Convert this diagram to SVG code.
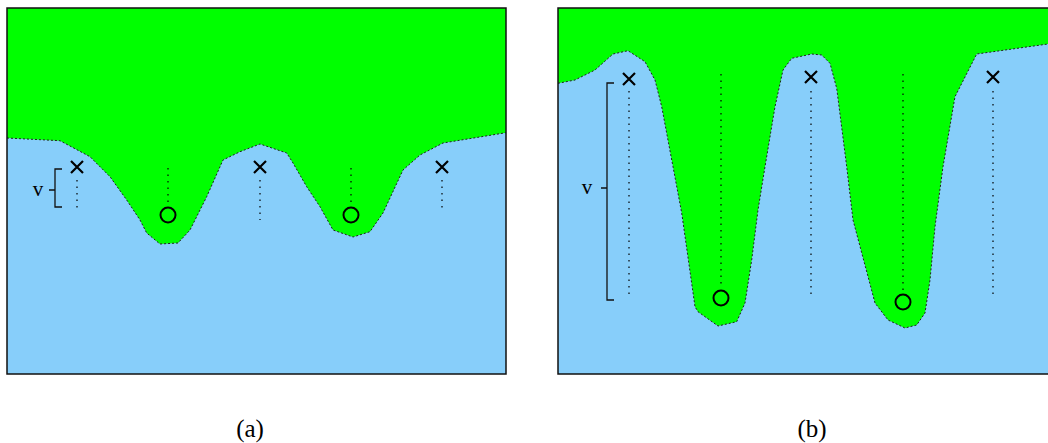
<svg xmlns="http://www.w3.org/2000/svg" width="1048" height="443" viewBox="0 0 1048 443">
<style>
.sky{fill:#87cefa}
.grass{fill:#00ff00}
.edge{fill:none;stroke:#222;stroke-width:1;stroke-dasharray:2 2;stroke-linejoin:round}
.frame{fill:none;stroke:#111;stroke-width:1.5}
.cross{stroke:#000;stroke-width:2.2;fill:none}
.circ{stroke:#000;stroke-width:2;fill:none}
.dot{stroke:#000;stroke-width:1.2;stroke-dasharray:1.5 5;fill:none}
.brk{stroke:#111;stroke-width:1.3;fill:none}
.lbl{font-family:"Liberation Serif",serif;fill:#000}
</style>
<defs>
<g id="xmark"><path d="M-6,-6L6,6M6,-6L-6,6"/></g>
</defs>
<g id="panel-a">
<rect x="7" y="8" width="499" height="366" class="sky"/>
<path class="grass" d="M7,8H506V132.7L443,143L420,155L403,170L383,213L370,231.7L353,237L333,230L320,206.7L306.7,186.7L293,163L286.7,153L260,144L240,151.7L223,160L206.7,196.7L190,230L178,243L160,244L146.7,233L140,220L126.7,200L110,176.7L90,156.7L60,140.7L7,138Z"/>
<path class="edge" d="M7,138L60,140.7L90,156.7L110,176.7L126.7,200L140,220L146.7,233L160,244L178,243L190,230L206.7,196.7L223,160L240,151.7L260,144L286.7,153L293,163L306.7,186.7L320,206.7L333,230L353,237L370,231.7L383,213L403,170L420,155L443,143L506,132.7"/>
<rect x="7" y="8" width="499" height="366" class="frame"/>
</g>
<g id="panel-b">
<rect x="558" y="8" width="495" height="366" class="sky"/>
<path class="grass" d="M558,8H1053V44L1048,44L976.7,54L955,96.7L943,166.7L935,226.7L930,280L925,313L916.7,325L905,328L888,320L875,303L853,220L846.7,166.7L836.7,88.3L830,63.3L821.7,55L811.7,54L791.7,58.3L783,70L775,106.7L765,166.7L758,210L751.7,260L745,303L736.7,321.7L718,326L698,311.7L695,306.7L681.7,213L673,166.7L661.7,106.7L655,80L645,61.7L628,50.7L613,54L595,70L575,80L558,83.3Z"/>
<path class="edge" d="M558,83.3L575,80L595,70L613,54L628,50.7L645,61.7L655,80L661.7,106.7L673,166.7L681.7,213L695,306.7L698,311.7L718,326L736.7,321.7L745,303L751.7,260L758,210L765,166.7L775,106.7L783,70L791.7,58.3L811.7,54L821.7,55L830,63.3L836.7,88.3L846.7,166.7L853,220L875,303L888,320L905,328L916.7,325L925,313L930,280L935,226.7L943,166.7L955,96.7L976.7,54L1048,44"/>
<path class="frame" d="M1053,8H558V374H1053"/>
</g>
<g id="connectors">
<path class="dot" d="M77,180V212M168,168V202M260,180V220M351,168V202M442,180V212"/>
<path class="dot" d="M629,91V298M721,74V286M811,91V296M903,74V290M993,91V298"/>
</g>
<g id="maxima-a" class="cross">
<use href="#xmark" x="77" y="167"/>
<use href="#xmark" x="260" y="167"/>
<use href="#xmark" x="442" y="167"/>
</g>
<g id="minima-a">
<circle class="circ" cx="168" cy="215" r="7.5"/>
<circle class="circ" cx="351" cy="215" r="7.5"/>
</g>
<g id="maxima-b" class="cross">
<use href="#xmark" x="629" y="79"/>
<use href="#xmark" x="811" y="77"/>
<use href="#xmark" x="993" y="77"/>
</g>
<g id="minima-b">
<circle class="circ" cx="721" cy="298" r="7.5"/>
<circle class="circ" cx="903" cy="302" r="7.5"/>
</g>
<g id="bracket-a">
<path class="brk" d="M62,169H55V207H62M49,190H55"/>
<text class="lbl" x="38" y="196" font-size="21" text-anchor="middle">v</text>
</g>
<g id="bracket-b">
<path class="brk" d="M614,83H607V300H614M601,188H607"/>
<text class="lbl" x="587" y="194" font-size="21" text-anchor="middle">v</text>
</g>
<text class="lbl" x="250" y="437" font-size="25" text-anchor="middle">(a)</text>
<text class="lbl" x="812" y="437" font-size="25" text-anchor="middle">(b)</text>
</svg>
